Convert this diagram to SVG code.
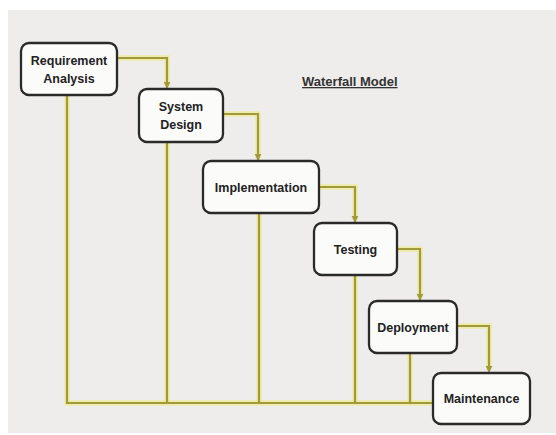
<svg xmlns="http://www.w3.org/2000/svg" width="556" height="435" viewBox="0 0 556 435">
  <style>
    .box { fill: #fbfbfa; stroke: #2a2a2a; stroke-width: 2.3; }
    .lbl { font-family: "Liberation Sans", Arial, sans-serif; font-weight: bold; font-size: 12.5px; fill: #222222; text-anchor: middle; dominant-baseline: central; }
    .glow { fill: none; stroke: #efe97c; stroke-width: 5.5; stroke-linejoin: miter; opacity: 0.6; }
    .core { fill: none; stroke: #a09a3c; stroke-width: 2.2; stroke-linejoin: miter; }
    .title { font-family: "Liberation Sans", Arial, sans-serif; font-weight: bold; font-size: 13px; fill: #333333; text-decoration: underline; }
  </style>
  <defs>
    <marker id="arrow" viewBox="0 0 10 10" refX="9" refY="5" markerWidth="3.2" markerHeight="3.2" orient="auto">
      <path d="M0,0 L10,5 L0,10 z" fill="#a09a3c"/>
    </marker>
  </defs>

  <!-- page -->
  <rect x="0" y="0" width="556" height="435" fill="#ffffff"/>
  <rect x="8" y="10" width="548" height="423" fill="#efedeb"/>

  <!-- connectors -->
  <g id="connectors">
    <g class="glow-layer">
      <path class="glow" d="M117,58 H167 V86"/>
      <path class="glow" d="M223,114 H258 V158"/>
      <path class="glow" d="M319,187 H355 V220"/>
      <path class="glow" d="M397,249 H420 V298"/>
      <path class="glow" d="M457,326 H489 V370"/>
      <path class="glow" d="M67,95 V403 H433"/>
      <path class="glow" d="M167,142 V403"/>
      <path class="glow" d="M259,213 V403"/>
      <path class="glow" d="M355,275 V403"/>
      <path class="glow" d="M410,353 V403"/>
    </g>
    <g class="core-layer">
      <path class="core" d="M117,58 H167 V88" marker-end="url(#arrow)"/>
      <path class="core" d="M223,114 H258 V160" marker-end="url(#arrow)"/>
      <path class="core" d="M319,187 H355 V222" marker-end="url(#arrow)"/>
      <path class="core" d="M397,249 H420 V300" marker-end="url(#arrow)"/>
      <path class="core" d="M457,326 H489 V372" marker-end="url(#arrow)"/>
      <path class="core" d="M67,95 V403 H433"/>
      <path class="core" d="M167,142 V403"/>
      <path class="core" d="M259,213 V403"/>
      <path class="core" d="M355,275 V403"/>
      <path class="core" d="M410,353 V403"/>
    </g>
  </g>

  <!-- phases -->
  <g id="requirement-analysis">
    <rect class="box" x="21" y="43" width="96" height="52" rx="8"/>
    <text class="lbl" x="69" y="61">Requirement</text>
    <text class="lbl" x="69" y="79">Analysis</text>
  </g>
  <g id="system-design">
    <rect class="box" x="139" y="89" width="84" height="53" rx="8"/>
    <text class="lbl" x="181" y="107">System</text>
    <text class="lbl" x="181" y="125">Design</text>
  </g>
  <g id="implementation">
    <rect class="box" x="203" y="161" width="116" height="52" rx="8"/>
    <text class="lbl" x="261" y="188">Implementation</text>
  </g>
  <g id="testing">
    <rect class="box" x="314" y="223" width="83" height="52" rx="8"/>
    <text class="lbl" x="355.5" y="250">Testing</text>
  </g>
  <g id="deployment">
    <rect class="box" x="369" y="301" width="88" height="52" rx="8"/>
    <text class="lbl" x="413" y="328">Deployment</text>
  </g>
  <g id="maintenance">
    <rect class="box" x="433" y="373" width="97" height="51" rx="8"/>
    <text class="lbl" x="481.5" y="399">Maintenance</text>
  </g>

  <!-- title -->
  <g id="title">
    <text class="title" x="302" y="86">Waterfall Model</text>
  </g>
</svg>
